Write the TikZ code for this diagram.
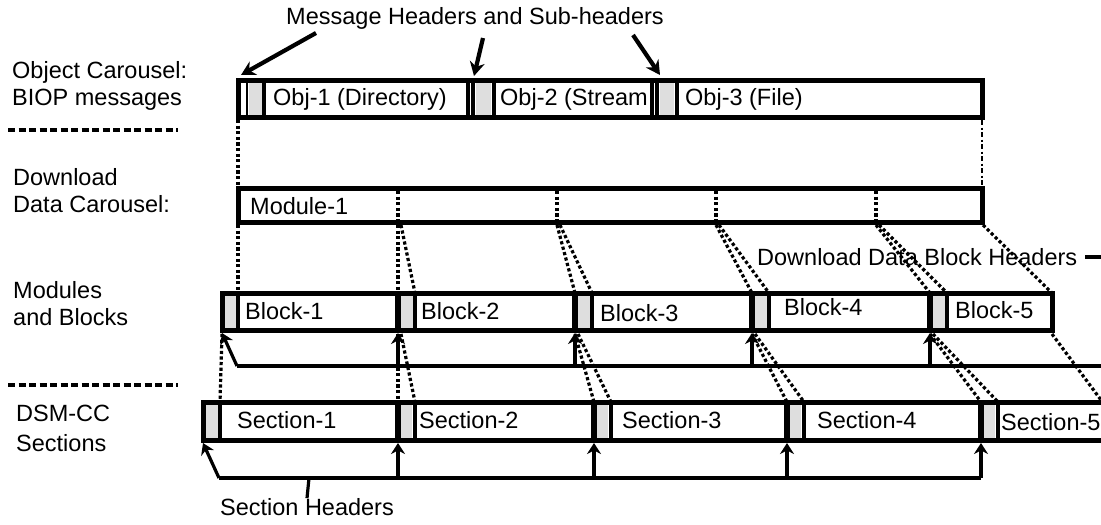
\documentclass[tikz,border=0pt]{standalone}
\usepackage{fontspec}
\setmainfont{Liberation Sans}
\usetikzlibrary{arrows.meta}
\begin{document}
\begin{tikzpicture}[x=1pt,y=-1pt,
  lbl/.style={font=\fontsize{23.5}{27}\selectfont, inner sep=0pt, anchor=west},
  ctr/.style={font=\fontsize{23.5}{27}\selectfont, inner sep=0pt},
  boxline/.style={line width=5pt},
  sep/.style={line width=3.6pt},
  thin2/.style={line width=2.5pt},
  thk/.style={line width=5.5pt},
  hdr/.style={fill=black!13, draw=none},
  dots/.style={line width=3.2pt, dash pattern=on 3.2pt off 2.4pt},
  thindots/.style={line width=2pt, dash pattern=on 5pt off 2.5pt on 2pt off 2.5pt},
  brk/.style={line width=3.2pt},
  up/.style={brk, -{Stealth[length=11pt,width=14pt]}},
  callout/.style={line width=4.2pt, -{Stealth[length=14pt,width=15pt]}},
  dashsep/.style={line width=3.5pt, dash pattern=on 7pt off 3.5pt}
]
\useasboundingbox (0,0) rectangle (1101,525);

% ---------- left labels ----------
\node[lbl] (l1a) at (12,72) {Object Carousel:};
\node[lbl] (l1b) at (12,100) {BIOP messages};
\node[lbl] (l2a) at (13,177) {Download};
\node[lbl] (l2b) at (13,204) {Data Carousel:};
\node[lbl] (l3a) at (13,290) {Modules};
\node[lbl] (l3b) at (13,317) {and Blocks};
\node[lbl] (l4a) at (16,413) {DSM-CC};
\node[lbl] (l4b) at (16,443) {Sections};
\coordinate (s1a) at (8,130); \coordinate (s1b) at (178,130);
\coordinate (s2a) at (8,385); \coordinate (s2b) at (178,385);
\draw[dashsep] (s1a) -- (s1b);
\draw[dashsep] (s2a) -- (s2b);

% ---------- row 1: objects ----------
\fill[hdr] (249,80) rectangle (262,117);
\fill[hdr] (476,80) rectangle (491,117);
\fill[hdr] (660,80) rectangle (674,117);
\draw[boxline] (238,80) rectangle (982,117);
\draw[thin2] (247,80)--(247,117);
\draw[sep] (264,80)--(264,117);
\draw[sep] (468,80)--(468,117); \draw[sep] (473,80)--(473,117); \draw[sep] (494,80)--(494,117);
\draw[sep] (652,80)--(652,117); \draw[sep] (657,80)--(657,117); \draw[sep] (677,80)--(677,117);
\node[lbl] (o1) at (273,99) {Obj-1 (Directory)};
\node[lbl] (o2) at (500,99) {Obj-2 (Stream};
\node[lbl] (o3) at (685,99) {Obj-3 (File)};

\node[ctr] (mh) at (475,18) {Message Headers and Sub-headers};
\coordinate (a1s) at (316,33); \coordinate (a1e) at (241,75);
\coordinate (a2s) at (483,38); \coordinate (a2e) at (474,76);
\coordinate (a3s) at (633,35); \coordinate (a3e) at (660,75);
\draw[callout] (a1s) -- (a1e);
\draw[callout] (a2s) -- (a2e);
\draw[callout] (a3s) -- (a3e);

% ---------- row 2: module ----------
\draw[boxline] (238,188) rectangle (982,222);
\node[lbl] (m1) at (250,206) {Module-1};
\foreach \m in {398,557,716,876} \draw[dots] (\m,191)--(\m,222);

% obj -> module
\draw[dots] (238,120) -- (238,188);
\draw[thindots] (982,120) -- (982,188);

% module -> blocks
\draw[dots] (238,225) -- (238,293);
\draw[dots] (398,225) -- (398,293);
\draw[dots] (401,225) -- (415,293);
\draw[dots] (557,225) -- (575,293);
\draw[dots] (560,225) -- (592,293);
\draw[dots] (716,225) -- (752,293);
\draw[dots] (719,225) -- (769,293);
\draw[dots] (876,225) -- (930,293);
\draw[dots] (879,225) -- (947,293);
\draw[dots] (983,225) -- (1052,293);

\node[lbl] (ddbh) at (757,257) {Download Data Block Headers};
\coordinate (ddbhend) at (1101,257);
\draw[sep] ([xshift=8pt]ddbh.east) -- (ddbhend);

% ---------- row 3: blocks ----------
\fill[hdr] (225,293) rectangle (237,330);
\foreach \b in {398,575,752,930} \fill[hdr] (\b+2,293) rectangle (\b+15,330);
\draw[boxline] (222,293) rectangle (1052,330);
\draw[sep] (238,293)--(238,330);
\foreach \b in {398,575,752,930} {\draw[thk] (\b,293)--(\b,330); \draw[sep] (\b+17,293)--(\b+17,330);}
\node[lbl] (b1) at (245,311) {Block-1};
\node[lbl] (b2) at (421,311) {Block-2};
\node[lbl] (b3) at (600,313) {Block-3};
\node[lbl] (b4) at (784,307) {Block-4};
\node[lbl] (b5) at (955,310) {Block-5};

\draw[up] (237,366) -- (222,333);
\draw[brk] (237,366) -- (1101,366);
\foreach \b in {398,575,752,930} \draw[up] (\b,366) -- (\b,333);

% blocks -> sections
\draw[dots] (222,334) -- (220,402);
\draw[dots] (398,334) -- (398,402);
\draw[dots] (401,334) -- (415,402);
\draw[dots] (575,334) -- (594,402);
\draw[dots] (578,334) -- (611,402);
\draw[dots] (752,334) -- (787,402);
\draw[dots] (755,334) -- (804,402);
\draw[dots] (930,334) -- (981,402);
\draw[dots] (933,334) -- (998,402);
\draw[dots] (1052,334) -- (1101,400);

% ---------- row 4: sections ----------
\fill[hdr] (206,402) rectangle (218,440);
\foreach \s in {398,594,787,981} \fill[hdr] (\s+3,402) rectangle (\s+14,440);
\draw[boxline] (1101,402) -- (203,402) -- (203,440) -- (1101,440);
\draw[sep] (220,402)--(220,440);
\foreach \s in {398,594,787,981} {\draw[thk] (\s,402)--(\s,440); \draw[sep] (\s+17,402)--(\s+17,440);}
\node[lbl] (c1) at (237,420) {Section-1};
\node[lbl] (c2) at (419,420) {Section-2};
\node[lbl] (c3) at (622,420) {Section-3};
\node[lbl] (c4) at (817,420) {Section-4};
\node[lbl] (c5) at (1001,422) {Section-5};

\draw[up] (219,478) -- (203,443);
\draw[brk] (219,478) -- (981,478);
\foreach \s in {398,594,787,981} \draw[up] (\s,478) -- (\s,443);
\node[ctr] (sh) at (307,507) {Section Headers};
\coordinate (tick) at (309,478);
\draw[brk] (tick) -- (sh.north);
\end{tikzpicture}
\end{document}
